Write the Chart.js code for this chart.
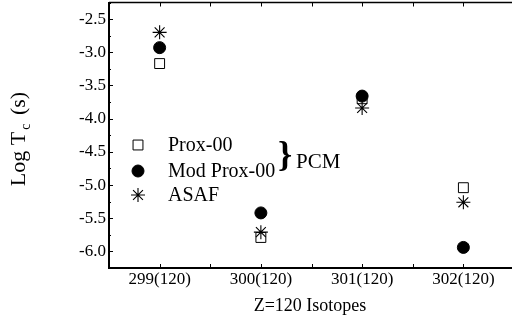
<!DOCTYPE html>
<html>
<head>
<meta charset="utf-8">
<script src="https://cdn.jsdelivr.net/npm/chart.js@4/dist/chart.umd.min.js"></script>
<style>
html,body{margin:0;padding:0;background:#fff;overflow:hidden;width:512px;height:321px;}
canvas{display:block;}
</style>
</head>
<body>
<canvas id="c" width="530" height="321" style="width:530px;height:321px"></canvas>
<script>
// ---- data ----
const isotopes = [299, 300, 301, 302];
const categoryLabels = ['299(120)', '300(120)', '301(120)', '302(120)'];
const prox00 = [-3.17, -5.79, -3.70, -5.04];
const modProx00 = [-2.93, -5.42, -3.66, -5.94];
const asaf = [-2.70, -5.71, -3.84, -5.26];
const yTickValues = [-6.0, -5.5, -5.0, -4.5, -4.0, -3.5, -3.0, -2.5];
const seriesNames = ['Prox-00', 'Mod Prox-00', 'ASAF'];
const groupLabel = 'PCM';
const xTitle = 'Z=120 Isotopes';

const FONT = "'Liberation Serif', 'Times New Roman', serif";

function pts(vals){ return isotopes.map((x,i)=>({x:x, y:vals[i]})); }
function noPad(s){ s.paddingTop = 0; s.paddingBottom = 0; s.paddingLeft = 0; s.paddingRight = 0; }

const frameTicks = {
  id: 'frameTicks',
  afterDraw(chart){
    const ctx = chart.ctx, a = chart.chartArea;
    const xs = chart.scales.x, ys = chart.scales.y;
    ctx.save();
    ctx.strokeStyle = '#000';
    // top frame line
    ctx.lineWidth = 1.5;
    ctx.beginPath(); ctx.moveTo(a.left, a.top); ctx.lineTo(a.right, a.top); ctx.stroke();
    // x ticks (at isotopes and midway) on bottom and top, inward
    ctx.lineWidth = 1;
    for (let v = xs.min; v <= xs.max + 1e-9; v += 0.5) {
      const px = Math.round(xs.getPixelForValue(v)) + 0.5;
      ctx.beginPath();
      ctx.moveTo(px, a.bottom); ctx.lineTo(px, a.bottom - 4);
      ctx.moveTo(px, a.top); ctx.lineTo(px, a.top + 4);
      ctx.stroke();
    }
    // y ticks inward, major and minor
    for (let i = 0; i < yTickValues.length; i++) {
      const v = yTickValues[i];
      let py = Math.round(ys.getPixelForValue(v)) + 0.5;
      ctx.beginPath(); ctx.moveTo(a.left, py); ctx.lineTo(a.left + 4, py); ctx.stroke();
      const mv = v + 0.25;
      py = Math.round(ys.getPixelForValue(mv)) + 0.5;
      ctx.beginPath(); ctx.moveTo(a.left, py); ctx.lineTo(a.left + 2, py); ctx.stroke();
      if (i === 0) {
        py = Math.round(ys.getPixelForValue(v - 0.25)) + 0.5;
        ctx.beginPath(); ctx.moveTo(a.left, py); ctx.lineTo(a.left + 2, py); ctx.stroke();
      }
    }
    // y title with subscript
    ctx.fillStyle = '#000';
    ctx.translate(19, 139);
    ctx.rotate(-Math.PI/2);
    const big = '22px ' + FONT, small = '14px ' + FONT;
    ctx.textBaseline = 'middle';
    ctx.font = big; const w1 = ctx.measureText('Log T').width;
    ctx.font = small; const w2 = ctx.measureText('c').width;
    ctx.font = big; const w3 = ctx.measureText(' (s)').width;
    let sx = -(w1 + w2 + 5 + w3)/2;
    ctx.textAlign = 'left';
    ctx.font = big; ctx.fillText('Log T', sx, 0);
    ctx.font = small; ctx.fillText('c', sx + w1 + 2, 7);
    ctx.font = big; ctx.fillText(' (s)', sx + w1 + w2 + 5, 0);
    ctx.setTransform(1,0,0,1,0,0);
    // x title
    ctx.font = '18px ' + FONT;
    ctx.textAlign = 'center';
    ctx.textBaseline = 'middle';
    ctx.fillText(xTitle, 310, 306);
    // legend
    const rows = [145, 171, 195];
    chart.data.datasets.forEach((ds, i) => {
      const y = rows[i];
      ctx.save();
      ctx.fillStyle = ds.backgroundColor; ctx.strokeStyle = ds.borderColor; ctx.lineWidth = ds.borderWidth;
      Chart.helpers.drawPoint(ctx, {pointStyle: ds.pointStyle, radius: ds.pointRadius, borderWidth: ds.borderWidth}, 138, y);
      ctx.restore();
      ctx.fillStyle = '#000';
      ctx.font = '20px ' + FONT;
      ctx.textAlign = 'left'; ctx.textBaseline = 'middle';
      ctx.fillText(ds.label, 168, y + 1);
    });
    // brace + PCM
    ctx.font = 'bold 36px ' + FONT;
    ctx.textAlign = 'center'; ctx.textBaseline = 'middle';
    ctx.fillText('}', 285, 157);
    ctx.font = '21px ' + FONT;
    ctx.textAlign = 'left';
    ctx.fillText(groupLabel, 296, 162);
    ctx.restore();
  }
};

new Chart(document.getElementById('c'), {
  type: 'scatter',
  data: {
    datasets: [
      { label: seriesNames[0], data: pts(prox00), pointStyle: 'rect', pointRadius: 7, pointHoverRadius: 7,
        backgroundColor: '#fff', borderColor: '#000', borderWidth: 1, order: 3 },
      { label: seriesNames[1], data: pts(modProx00), pointStyle: 'circle', pointRadius: 6, pointHoverRadius: 6,
        backgroundColor: '#000', borderColor: '#000', borderWidth: 1, order: 2 },
      { label: seriesNames[2], data: pts(asaf), pointStyle: 'star', pointRadius: 7, pointHoverRadius: 7,
        backgroundColor: '#000', borderColor: '#000', borderWidth: 1.1, order: 1 }
    ]
  },
  options: {
    responsive: false,
    animation: false,
    devicePixelRatio: 1,
    layout: { autoPadding: false, padding: { top: 2.5, right: 16, left: 0, bottom: 0 } },
    plugins: { legend: { display: false }, tooltip: { enabled: false } },
    events: [],
    scales: {
      x: {
        type: 'linear', min: 298.5, max: 302.5,
        afterBuildTicks(s){ s.ticks = isotopes.map(v => ({ value: v })); },
        afterFit(s){ s.height = 53; noPad(s); },
        ticks: {
          color: '#000', font: { family: FONT, size: 17 }, padding: 1, maxRotation: 0, autoSkip: false,
          callback(v){ const i = isotopes.indexOf(v); return i >= 0 ? categoryLabels[i] : null; }
        },
        grid: { display: false, drawTicks: false },
        border: { display: true, color: '#000', width: 2 }
      },
      y: {
        type: 'linear', min: -6.25, max: -2.25,
        afterBuildTicks(s){ s.ticks = yTickValues.map(v => ({ value: v })); },
        afterFit(s){ s.width = 109; noPad(s); },
        ticks: {
          color: '#000', font: { family: FONT, size: 17 }, padding: 3, autoSkip: false,
          callback(v){ return v.toFixed(1); }
        },
        grid: { display: false, drawTicks: false },
        border: { display: true, color: '#000', width: 2 }
      }
    }
  },
  plugins: [frameTicks]
});
</script>
</body>
</html>
